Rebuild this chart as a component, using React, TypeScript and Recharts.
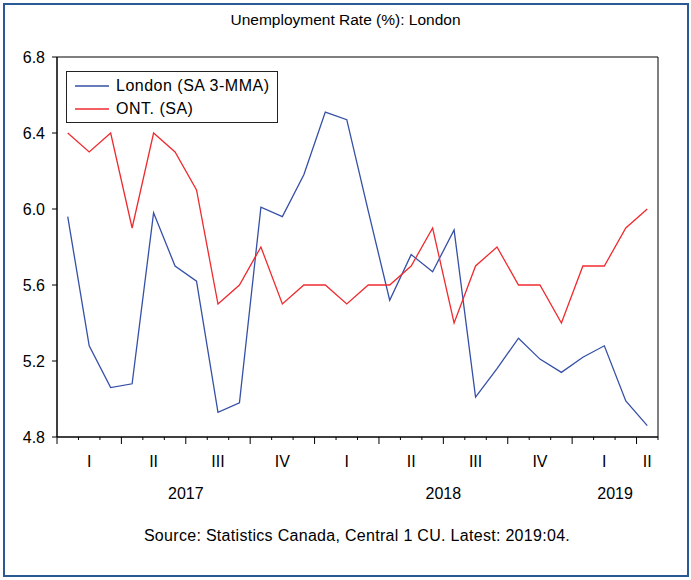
import React from 'react';
import { LineChart, Line, XAxis, YAxis, Legend, ReferenceArea } from 'recharts';

// monthly, 2017:01 .. 2019:04
const months = [
  '2017:01', '2017:02', '2017:03', '2017:04', '2017:05', '2017:06', '2017:07', '2017:08', '2017:09', '2017:10', '2017:11', '2017:12',
  '2018:01', '2018:02', '2018:03', '2018:04', '2018:05', '2018:06', '2018:07', '2018:08', '2018:09', '2018:10', '2018:11', '2018:12',
  '2019:01', '2019:02', '2019:03', '2019:04',
];
const london = [
  5.96, 5.28, 5.06, 5.08, 5.98, 5.70, 5.62, 4.93, 4.98, 6.01, 5.96, 6.18,
  6.51, 6.47, 5.99, 5.52, 5.76, 5.67, 5.89, 5.01, 5.16, 5.32, 5.21, 5.14,
  5.22, 5.28, 4.99, 4.86,
];
const ontario = [
  6.4, 6.3, 6.4, 5.9, 6.4, 6.3, 6.1, 5.5, 5.6, 5.8, 5.5, 5.6,
  5.6, 5.5, 5.6, 5.6, 5.7, 5.9, 5.4, 5.7, 5.8, 5.6, 5.6, 5.4,
  5.7, 5.7, 5.9, 6.0,
];
const quarterLabels = ['I', 'II', 'III', 'IV', 'I', 'II', 'III', 'IV', 'I', 'II'];
const yearLabels = ['2017', '2018', '2019'];
const yTicks = [4.8, 5.2, 5.6, 6.0, 6.4, 6.8];

const BLUE = '#3550a6';
const RED = '#ef2b2f';
const FONT = '"Liberation Sans", Arial, sans-serif';

const n = months.length;
const data = months.map((m, i) => ({ month: m, x: i + 0.5, london: london[i], ontario: ontario[i] }));

const quarterCenters = new Map<number, string>();
quarterLabels.forEach((q, i) => {
  const start = i * 3;
  const end = Math.min(start + 3, n);
  quarterCenters.set((start + end) / 2, q);
});
const yearCenters = new Map<number, string>();
yearLabels.forEach((y, i) => {
  const start = i * 12;
  const end = Math.min(start + 12, n);
  yearCenters.set((start + end) / 2, y);
});

const xTicks = Array.from(
  new Set([
    ...Array.from({ length: n + 1 }, (_, i) => i),
    ...quarterCenters.keys(),
    ...yearCenters.keys(),
  ])
).sort((a, b) => a - b);

function PeriodTick(props: any) {
  const { x, y, payload } = props;
  const v = payload.value;
  const q = quarterCenters.get(v);
  const yr = yearCenters.get(v);
  return (
    <g>
      {Number.isInteger(v) && (
        <line x1={x} x2={x} y1={y} y2={y + (v % 3 === 0 ? 7 : 3)} stroke="#000" strokeWidth={1} />
      )}
      {q && (
        <text x={x} y={y + 30} textAnchor="middle" fontSize={16} fill="#000" fontFamily={FONT}>
          {q}
        </text>
      )}
      {yr && (
        <text x={x} y={y + 62} textAnchor="middle" fontSize={16} fill="#000" fontFamily={FONT}>
          {yr}
        </text>
      )}
    </g>
  );
}

function LegendBox() {
  const rows = [
    { label: 'London (SA 3-MMA)', color: BLUE },
    { label: 'ONT. (SA)', color: RED },
  ];
  return (
    <div
      style={{
        width: 212,
        height: 52,
        border: '1px solid #222',
        boxSizing: 'border-box',
        background: '#fff',
        position: 'relative',
        fontFamily: FONT,
        fontSize: 16,
        letterSpacing: 0.5,
        color: '#000',
      }}
    >
      {rows.map((r, i) => (
        <div key={r.label} style={{ position: 'absolute', left: 8, top: 4 + i * 23, height: 20, display: 'flex', alignItems: 'center' }}>
          <svg width={34} height={4} style={{ marginRight: 7 }}>
            <line x1={0} x2={34} y1={2} y2={2} stroke={r.color} strokeWidth={1.3} />
          </svg>
          <span style={{ whiteSpace: 'nowrap' }}>{r.label}</span>
        </div>
      ))}
    </div>
  );
}

export default function App() {
  return (
    <div style={{ position: 'absolute', left: 0, top: 0, width: 691, height: 580, background: '#fff', fontFamily: FONT }}>
      <div
        style={{
          position: 'absolute',
          left: 3,
          top: 3,
          width: 686,
          height: 574,
          border: '2px solid #2a5a96',
          boxSizing: 'border-box',
        }}
      />
      <div style={{ position: 'absolute', left: 0, top: 11, width: 691, textAlign: 'center', fontSize: 15.5, color: '#000' }}>
        Unemployment Rate (%): London
      </div>
      <LineChart width={691} height={580} data={data} margin={{ top: 57, right: 33, left: 12, bottom: 83 }}>
        <XAxis
          dataKey="x"
          type="number"
          domain={[0, n]}
          ticks={xTicks}
          interval={0}
          tickSize={0}
          tickMargin={0}
          tickLine={false}
          axisLine={{ stroke: '#000' }}
          height={60}
          tick={<PeriodTick />}
        />
        <YAxis
          type="number"
          domain={[4.8, 6.8]}
          ticks={yTicks}
          interval={0}
          width={45}
          tickSize={5}
          tickMargin={7}
          tickFormatter={(v: number) => v.toFixed(1)}
          tick={{ fontSize: 16, fill: '#000', fontFamily: FONT }}
          axisLine={{ stroke: '#000' }}
          tickLine={{ stroke: '#000' }}
        />
        <ReferenceArea x1={0} x2={n} y1={4.8} y2={6.8} fill="none" stroke="#000" strokeWidth={1} />
        <Line type="linear" dataKey="london" stroke={BLUE} strokeWidth={1.3} dot={false} isAnimationActive={false} />
        <Line type="linear" dataKey="ontario" stroke={RED} strokeWidth={1.3} dot={false} isAnimationActive={false} />
        <Legend
          layout="vertical"
          align="center"
          verticalAlign="middle"
          wrapperStyle={{ left: 66, top: 71, width: 212, height: 52 }}
          content={<LegendBox />}
        />
      </LineChart>
      <div style={{ position: 'absolute', left: 0, top: 527, width: 714, textAlign: 'center', fontSize: 16, letterSpacing: 0.3, color: '#000' }}>
        Source: Statistics Canada, Central 1 CU. Latest: 2019:04.
      </div>
    </div>
  );
}
